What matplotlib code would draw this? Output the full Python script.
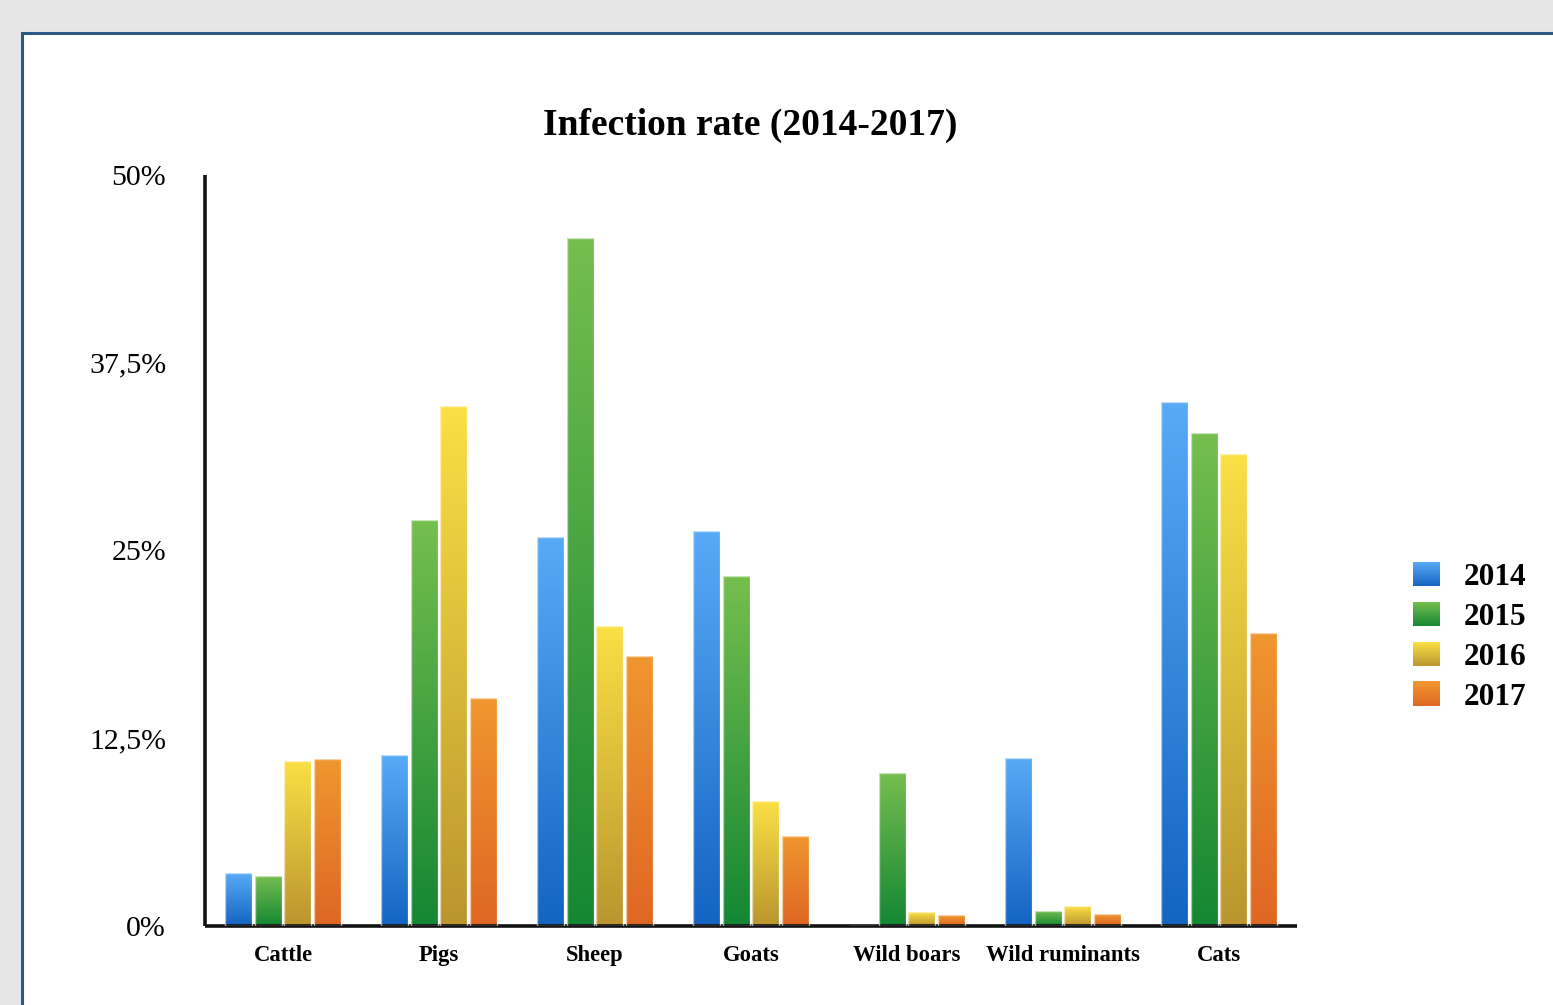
import numpy as np
import matplotlib
matplotlib.use("Agg")
import matplotlib.pyplot as plt
from matplotlib.patches import Rectangle, Patch
from matplotlib.legend_handler import HandlerBase
from matplotlib.colors import LinearSegmentedColormap

plt.rcParams['font.family'] = ['Liberation Serif', 'DejaVu Serif']

categories = ["Cattle", "Pigs", "Sheep", "Goats", "Wild boars", "Wild ruminants", "Cats"]
years = ["2014", "2015", "2016", "2017"]
rate_2014 = [3.5, 11.4, 25.9, 26.3, 0.0, 11.2, 34.9]
rate_2015 = [3.3, 27.0, 45.8, 23.3, 10.2, 1.0, 32.8]
rate_2016 = [11.0, 34.6, 20.0, 8.3, 0.9, 1.3, 31.4]
rate_2017 = [11.1, 15.2, 18.0, 6.0, 0.7, 0.8, 19.5]
series = [rate_2014, rate_2015, rate_2016, rate_2017]
yticks = [0, 12.5, 25, 37.5, 50]
ytick_labels = ["0%", "12,5%", "25%", "37,5%", "50%"]

# (top colour, bottom colour) for each year's gradient fill
shades = [
    ("#58aaf6", "#1464c2"),
    ("#74be4e", "#158733"),
    ("#fadf45", "#bb962f"),
    ("#f0962f", "#df6724"),
]


class GradientHandler(HandlerBase):
    def create_artists(self, legend, orig_handle, xdescent, ydescent,
                       width, height, fontsize, trans):
        top, bot = orig_handle.shades
        cmap = LinearSegmentedColormap.from_list("g", [bot, top])
        n = 24
        arts = []
        for i in range(n):
            r = Rectangle((-xdescent, -ydescent + height * i / n), width, height / n + 0.3,
                          facecolor=cmap((i + 0.5) / n), edgecolor="none", transform=trans)
            arts.append(r)
        return arts


fig = plt.figure(figsize=(15.53, 10.05), dpi=100)
fig.patch.set_facecolor("#e6e6e6")

# white panel with blue border, kept behind the axes
panel = Rectangle((22 / 1553, -0.05), 1.1, 1 - 33 / 1005 + 0.05, transform=fig.transFigure,
                  facecolor="white", edgecolor="#2c5a88", linewidth=2.2, zorder=-5)
fig.patches.append(panel)

ax = fig.add_axes([205 / 1553, 79 / 1005, 1092 / 1553, 751 / 1005])
ax.set_facecolor("none")
ax.set_zorder(2)

x = np.arange(len(categories))
step = 0.189
width = 0.173
for k, (vals, (top, bot)) in enumerate(zip(series, shades)):
    cmap = LinearSegmentedColormap.from_list("g%d" % k, [bot, top])
    bars = ax.bar(x + (k - 1.5) * step, vals, width, facecolor="none",
                  edgecolor=(1, 1, 1, 0.6), linewidth=1.0, zorder=3)
    for bar in bars:
        h = bar.get_height()
        if h <= 0:
            continue
        x0 = bar.get_x()
        grad = np.linspace(1, 0, 64).reshape(-1, 1)
        im = ax.imshow(grad, extent=[x0, x0 + bar.get_width(), 0, h], cmap=cmap,
                       vmin=0, vmax=1, aspect="auto", interpolation="bilinear", zorder=2)
        im.set_clip_path(bar)

ax.set_xlim(-0.5, 6.5)
ax.set_ylim(0, 50)
ax.set_xticks(x)
ax.set_xticklabels(categories, fontsize=16.3, fontweight="bold")
ax.set_yticks(yticks)
ax.set_yticklabels(ytick_labels, fontsize=21.5)
ax.tick_params(length=0)
ax.tick_params(axis="x", pad=13.5)
ax.tick_params(axis="y", pad=28)
for s in ["top", "right"]:
    ax.spines[s].set_visible(False)
for s in ["left", "bottom"]:
    ax.spines[s].set_linewidth(2.6)
    ax.spines[s].set_color("#111111")
    ax.spines[s].set_capstyle("butt")

fig.text(750 / 1553, 1 - 125 / 1005, "Infection rate (2014-2017)", ha="center", va="center",
         fontsize=27, fontweight="bold")

handles = []
for sh in shades:
    p = Patch(facecolor=sh[0])
    p.shades = sh
    handles.append(p)
fig.legend(handles, years, loc="center left", bbox_to_anchor=(1413 / 1553, 1 - 637 / 1005),
           frameon=False, handlelength=0.85, handleheight=0.8,
           handletextpad=0.78, labelspacing=0.32, borderpad=0, borderaxespad=0,
           handler_map={Patch: GradientHandler()},
           prop={"size": 22.5, "weight": "bold"})

fig.savefig("out.png", dpi=100, facecolor=fig.get_facecolor())
